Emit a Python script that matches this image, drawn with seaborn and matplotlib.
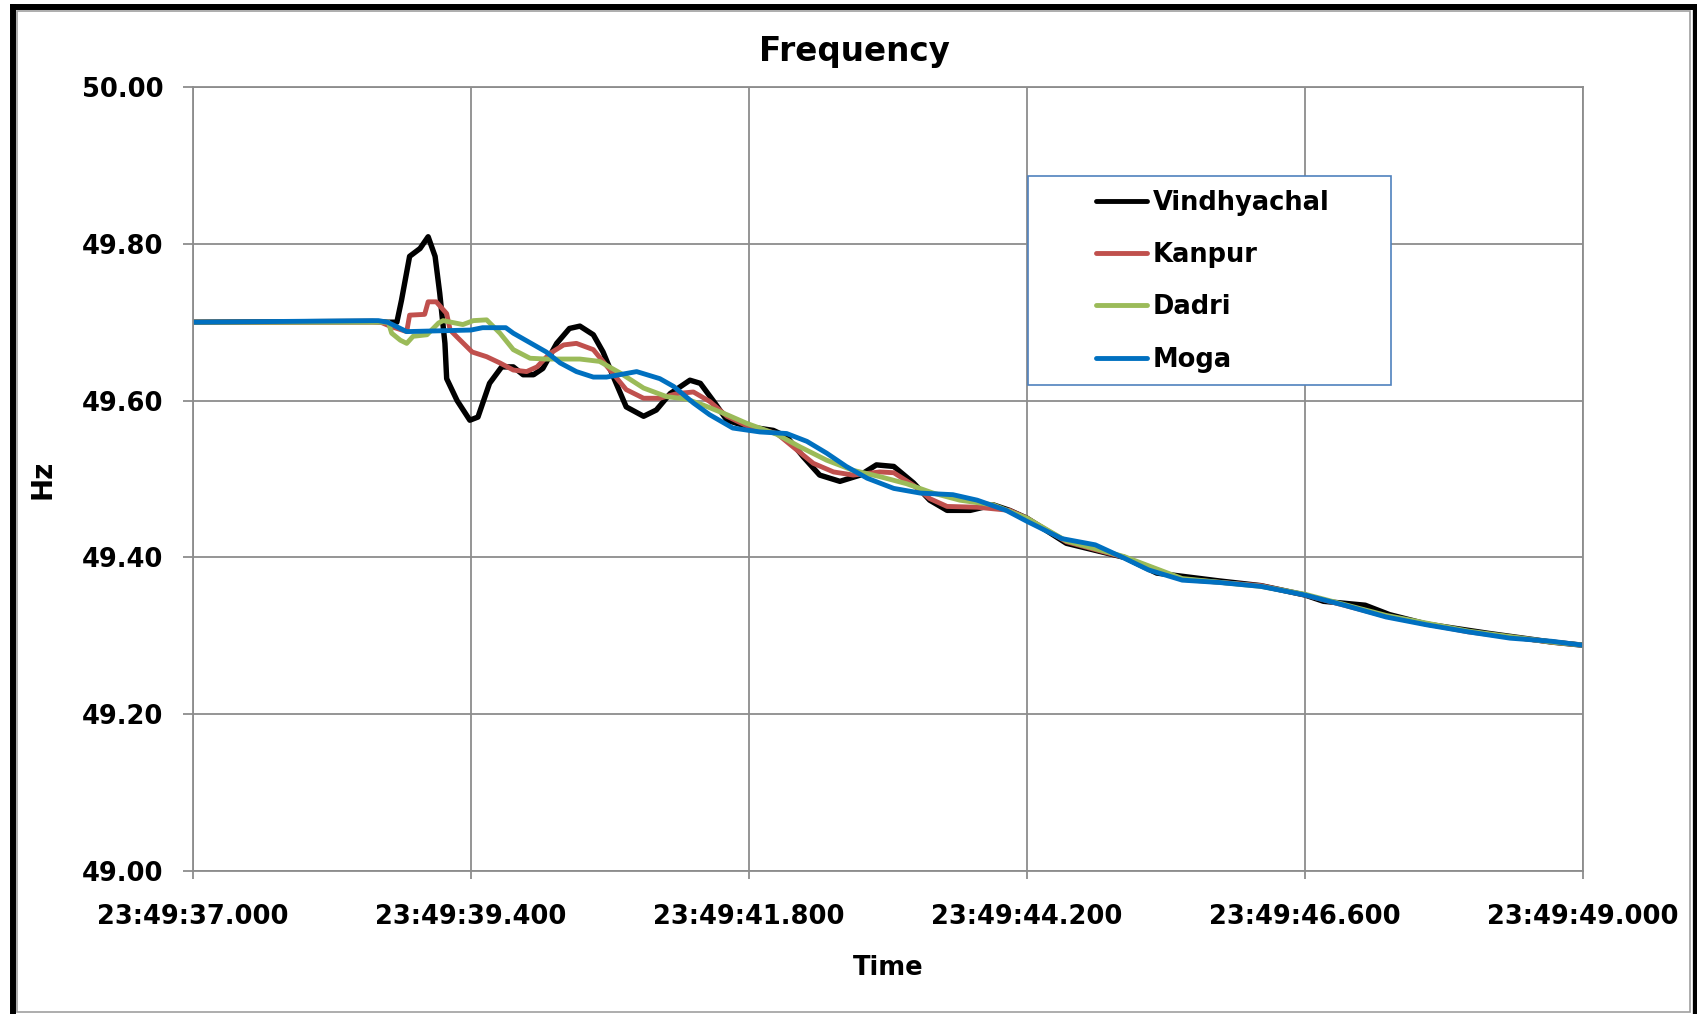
import pandas as pd
import numpy as np
import matplotlib
matplotlib.use("Agg")
import matplotlib.pyplot as plt
import seaborn as sns
from matplotlib.lines import Line2D
from matplotlib.patches import Rectangle

# seconds after 23:49:37.000, values in Hz
t_vindhyachal = [0, 1.55, 1.68, 1.76, 1.80, 1.87, 1.96, 2.03, 2.09, 2.13, 2.175, 2.19, 2.28, 2.39,
                 2.46, 2.56, 2.665, 2.765, 2.85, 2.94, 3.02, 3.14, 3.25, 3.34, 3.456, 3.54, 3.63,
                 3.74, 3.89, 4.00, 4.12, 4.29, 4.38, 4.49, 4.61, 4.78, 5.01, 5.125, 5.27, 5.41,
                 5.585, 5.76, 5.90, 6.05, 6.22, 6.36, 6.51, 6.71, 6.91, 7.05, 7.20, 7.54, 8.04,
                 8.32, 8.86, 9.22, 9.60, 9.76, 10.12, 10.33, 10.65, 11.19, 11.73, 12.0]
v_vindhyachal = [49.700, 49.701, 49.700, 49.700, 49.728, 49.784, 49.794, 49.809, 49.784, 49.737,
                 49.673, 49.628, 49.600, 49.575, 49.579, 49.622, 49.643, 49.643, 49.633, 49.633,
                 49.641, 49.673, 49.692, 49.695, 49.684, 49.662, 49.630, 49.592, 49.580, 49.588,
                 49.609, 49.626, 49.622, 49.600, 49.575, 49.567, 49.562, 49.554, 49.528, 49.505,
                 49.497, 49.505, 49.518, 49.516, 49.495, 49.473, 49.460, 49.460, 49.467, 49.460,
                 49.450, 49.418, 49.400, 49.380, 49.370, 49.364, 49.352, 49.344, 49.339, 49.327,
                 49.315, 49.303, 49.292, 49.288]

t_kanpur = [0, 1.62, 1.70, 1.845, 1.87, 2.00, 2.03, 2.10, 2.19, 2.22, 2.28, 2.41, 2.535, 2.65,
            2.765, 2.88, 2.97, 3.08, 3.20, 3.31, 3.456, 3.60, 3.74, 3.89, 4.03, 4.18, 4.32, 4.46,
            4.61, 4.78, 5.04, 5.18, 5.355, 5.53, 5.70, 5.93, 6.05, 6.22, 6.36, 6.51, 6.77, 7.05,
            7.20, 7.54, 8.04, 8.54, 9.22, 9.60, 10.30, 11.01, 11.73, 12.0]
v_kanpur = [49.700, 49.700, 49.695, 49.688, 49.709, 49.710, 49.726, 49.726, 49.711, 49.690,
            49.681, 49.662, 49.656, 49.648, 49.639, 49.637, 49.643, 49.660, 49.671, 49.673,
            49.665, 49.639, 49.614, 49.603, 49.603, 49.609, 49.611, 49.599, 49.580, 49.568,
            49.558, 49.541, 49.520, 49.509, 49.505, 49.509, 49.508, 49.492, 49.475, 49.465,
            49.464, 49.460, 49.450, 49.420, 49.400, 49.372, 49.364, 49.352, 49.325, 49.305,
            49.292, 49.288]

t_dadri = [0, 1.686, 1.715, 1.79, 1.845, 1.90, 2.02, 2.12, 2.16, 2.33, 2.42, 2.535, 2.65, 2.765,
           2.91, 3.05, 3.34, 3.51, 3.69, 3.89, 4.09, 4.26, 4.41, 4.61, 4.78, 5.04, 5.24, 5.47,
           5.70, 5.93, 6.16, 6.39, 6.62, 6.91, 7.20, 7.54, 8.04, 8.54, 9.22, 9.60, 10.30, 11.01,
           11.73, 12.0]
v_dadri = [49.700, 49.700, 49.686, 49.677, 49.673, 49.682, 49.684, 49.699, 49.702, 49.697,
           49.702, 49.703, 49.686, 49.665, 49.654, 49.653, 49.653, 49.650, 49.635, 49.616,
           49.605, 49.602, 49.594, 49.582, 49.571, 49.557, 49.541, 49.524, 49.511, 49.503,
           49.494, 49.482, 49.473, 49.467, 49.450, 49.421, 49.401, 49.373, 49.363, 49.353,
           49.326, 49.306, 49.292, 49.288]

t_moga = [0, 1.60, 1.68, 1.845, 2.40, 2.50, 2.70, 2.765, 3.05, 3.17, 3.31, 3.456, 3.57, 3.83,
          4.03, 4.15, 4.32, 4.46, 4.66, 4.895, 5.125, 5.30, 5.47, 5.64, 5.82, 6.05, 6.28, 6.56,
          6.77, 7.02, 7.20, 7.50, 7.79, 8.04, 8.25, 8.54, 8.86, 9.22, 9.60, 9.94, 10.30, 10.65,
          11.01, 11.37, 11.73, 12.0]
v_moga = [49.700, 49.702, 49.700, 49.688, 49.690, 49.693, 49.693, 49.686, 49.662, 49.648,
          49.637, 49.630, 49.630, 49.637, 49.628, 49.618, 49.597, 49.582, 49.565, 49.560,
          49.558, 49.548, 49.533, 49.516, 49.501, 49.488, 49.482, 49.480, 49.473, 49.460,
          49.446, 49.424, 49.416, 49.399, 49.384, 49.371, 49.368, 49.363, 49.352, 49.339,
          49.324, 49.314, 49.305, 49.297, 49.293, 49.288]

stations = ['Vindhyachal', 'Kanpur', 'Dadri', 'Moga']
colors = ['#000000', '#C0504D', '#9BBB59', '#0070C0']
x_ticks = [0, 2.4, 4.8, 7.2, 9.6, 12.0]
x_tick_labels = ['23:49:37.000', '23:49:39.400', '23:49:41.800',
                 '23:49:44.200', '23:49:46.600', '23:49:49.000']
y_ticks = [49.0, 49.2, 49.4, 49.6, 49.8, 50.0]

frames = []
for name, t, v in zip(stations,
                      [t_vindhyachal, t_kanpur, t_dadri, t_moga],
                      [v_vindhyachal, v_kanpur, v_dadri, v_moga]):
    frames.append(pd.DataFrame({'t': t, 'Hz': v, 'station': name}))
df = pd.concat(frames, ignore_index=True)

sns.set_style("white")
plt.rcParams['font.family'] = ['DejaVu Sans']
plt.rcParams['font.weight'] = 'bold'
plt.rcParams['text.color'] = 'black'
plt.rcParams['axes.labelcolor'] = 'black'
plt.rcParams['xtick.labelcolor'] = 'black'
plt.rcParams['ytick.labelcolor'] = 'black'

fig = plt.figure(figsize=(16.97, 10.14), dpi=100)
W, H = 1697, 1014
ax = fig.add_axes([193 / W, 1 - 871 / H, 1390 / W, 784 / H])

for name, c in zip(stations, colors):
    lw = 3.9 if name == 'Vindhyachal' else 3.5
    sns.lineplot(data=df[df.station == name], x='t', y='Hz', color=c, linewidth=lw,
                 estimator=None, sort=False, ax=ax, label=name, legend=False)

ax.set_xlim(0, 12)
ax.set_ylim(49.0, 50.0)
ax.set_xticks(x_ticks)
ax.set_xticklabels(x_tick_labels)
ax.set_yticks(y_ticks)
ax.set_yticklabels([f"{y:.2f}" for y in y_ticks])
ax.grid(True, color='#8c8c8c', linewidth=1.3)
for s in ax.spines.values():
    s.set_color('#8c8c8c')
    s.set_linewidth(1.3)
ax.tick_params(axis='y', which='major', length=7.5, width=1.3, color='#8c8c8c',
               pad=14, labelsize=18.5, left=True)
ax.tick_params(axis='x', which='major', length=6, width=1.3, color='#8c8c8c',
               pad=17.5, labelsize=18.5, bottom=True)
for lab in ax.get_xticklabels() + ax.get_yticklabels():
    lab.set_fontweight('bold')

ax.set_xlabel('Time', fontsize=18.5, fontweight='bold')
ax.xaxis.set_label_coords(0.5, -0.107)
ax.set_ylabel('Hz', fontsize=20, fontweight='bold')
ax.yaxis.set_label_coords(-0.098, 0.5)
fig.text(854 / W, 1 - 61 / H, 'Frequency', ha='center', va='baseline',
         fontsize=23.5, fontweight='bold')

# legend with a separate box
handles = [Line2D([], [], color=c, linewidth=3.5) for c in colors]
leg = fig.legend(handles, stations, loc='upper left', bbox_to_anchor=(1096 / W, 1 - 190 / H),
                 bbox_transform=fig.transFigure, frameon=False,
                 handlelength=2.0, handletextpad=0.2, labelspacing=1.02,
                 borderpad=0, borderaxespad=0, prop={'weight': 'bold', 'size': 18.5})
fig.add_artist(Rectangle((1028 / W, 1 - 385 / H), 363 / W, 209 / H, transform=fig.transFigure,
                         fill=True, facecolor='white', edgecolor='#4F81BD', linewidth=1.2,
                         zorder=0.5))
leg.set_zorder(5)

# outer chart frame
fig.add_artist(Rectangle((17 / W, 1 - 1012 / H), 1673 / W, 1001 / H, transform=fig.transFigure,
                         fill=False, edgecolor='#a0a0a0', linewidth=1.2))
fig.add_artist(Line2D([13 / W, 13 / W], [0, 1 - 4 / H], transform=fig.transFigure,
                      color='black', linewidth=4.3, solid_capstyle='butt'))
fig.add_artist(Line2D([10 / W, 1697 / W], [1 - 7 / H, 1 - 7 / H], transform=fig.transFigure,
                      color='black', linewidth=4.3, solid_capstyle='butt'))
fig.add_artist(Line2D([1694.5 / W, 1694.5 / W], [0, 1 - 4 / H], transform=fig.transFigure,
                      color='black', linewidth=3.8, solid_capstyle='butt'))

fig.savefig('out.png', dpi=100)
